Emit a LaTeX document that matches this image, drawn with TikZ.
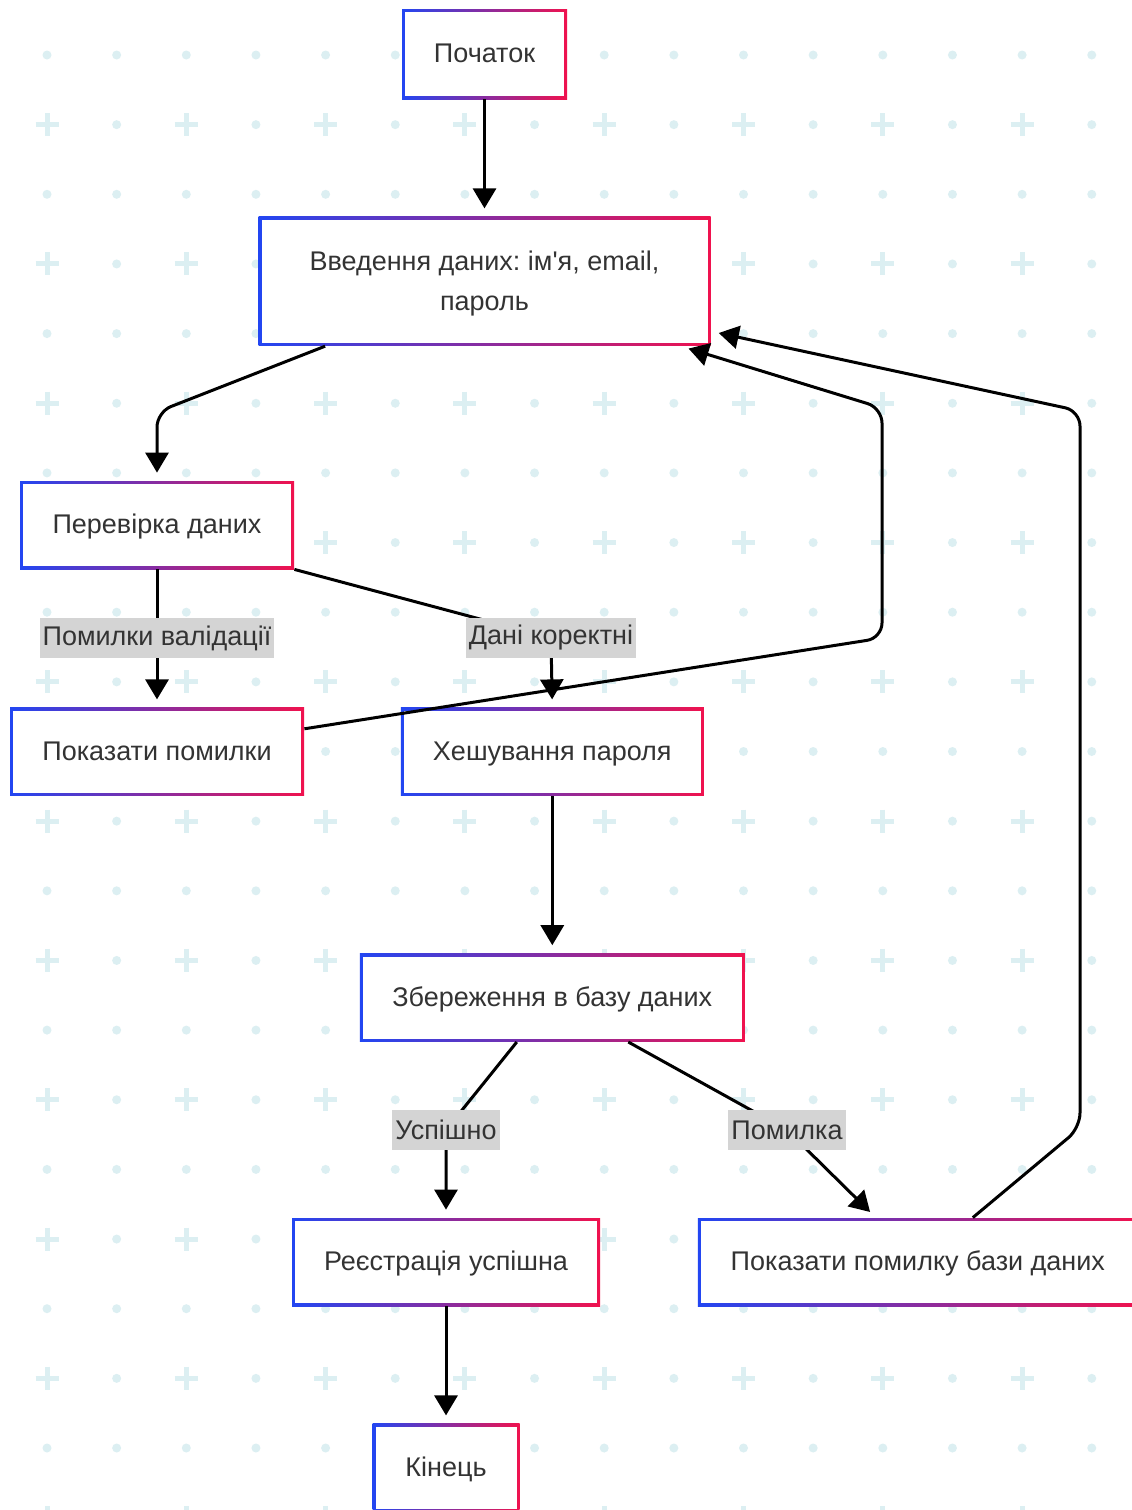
\documentclass[tikz,border=0pt]{standalone}
\usepackage{fontspec}
\setmainfont{Liberation Sans}
\usepackage{xcolor}
\usepackage{tikz}
\usetikzlibrary{arrows.meta,positioning,calc}
\definecolor{gradBlue}{HTML}{2246F2}
\definecolor{gradRed}{HTML}{F0124E}
\definecolor{textGray}{HTML}{333333}
\definecolor{labelGray}{HTML}{D4D4D4}
\definecolor{gridCyan}{HTML}{DCEFF2}
\frenchspacing

\begin{document}
\begin{tikzpicture}[
  x=0.5pt, y=-0.5pt,
  font=\fontsize{13.5pt}{20pt}\selectfont,
  box/.style={rectangle, fill=white, minimum height=44pt, align=center, text=textGray, text depth=1pt,
    path picture={
      \shade[left color=gradBlue, right color=gradRed] (path picture bounding box.south west) rectangle (path picture bounding box.north east);
      \fill[white] ([shift={(1.5pt,1.5pt)}]path picture bounding box.south west) rectangle ([shift={(-1.5pt,-1.5pt)}]path picture bounding box.north east);
    }},
  lbl/.style={rectangle, sharp corners, fill=labelGray, text=textGray, inner xsep=1.5pt, inner ysep=0pt, minimum height=20pt},
  arrow/.style={-{Triangle[length=10pt,width=11.5pt]}, line width=1.5pt, shorten >=4pt, rounded corners=7.5pt}
]
\useasboundingbox (0,0) rectangle (1131,1510);
\fill[white] (0,0) rectangle (1131,1510);

\foreach \j in {0,2,...,20}
  \foreach \i in {0,...,15}
    \fill[gridCyan] ({47+69.65*\i},{55+69.65*\j}) circle (2.25pt);
\foreach \j in {1,3,...,21}{
  \foreach \i in {1,3,...,15}
    \fill[gridCyan] ({47+69.65*\i},{55+69.65*\j}) circle (2.25pt);
  \foreach \i in {0,2,...,14}
    \draw[gridCyan, line width=2.5pt] ({47+69.65*\i-11.5},{55+69.65*\j}) -- ++(23,0)
      ({47+69.65*\i},{55+69.65*\j-11.5}) -- ++(0,23);
}

\node[box, minimum width=82.5pt, minimum height=45pt] (start) at (484.5,54) {Початок};
\node[box, minimum width=226pt, minimum height=64.5pt, below=58.5pt of start] (input) {Введення даних: ім\textquotesingle я, email,\\пароль};
\node[box, minimum width=137pt] (check) at (157,525) {Перевірка даних};
\node[box, minimum width=147pt, below=69pt of check] (showerr) {Показати помилки};
\node[box, minimum width=151.5pt, right=48pt of showerr] (hash) {Хешування пароля};
\node[box, minimum width=192.5pt, below=78.5pt of hash] (save) {Збереження в базу даних};
\node[box, minimum width=154pt] (success) at (446,1262) {Реєстрація успішна};
\node[box, minimum width=220pt, right=48.5pt of success] (dberror) {Показати помилку бази даних};
\node[box, minimum width=73.5pt, below=58.5pt of success] (end) {Кінець};

\draw[arrow] (start) -- (input);
\draw[arrow] ([xshift=33.5pt]input.south west) -- (157,412) -- (check.north);
\draw[arrow] (check) -- node[lbl] {Помилки валідації} (showerr);
\draw[arrow] (check.south east) -- (551,638) node[lbl] {Дані коректні} -- (hash.north);
\draw[arrow] ([yshift=11.5pt]showerr.east) -- (882,638) -- (882,408) -- ([xshift=-15pt]input.south east);
\draw[arrow] (hash) -- (save);
\draw[arrow] ([xshift=-17.75pt]save.south) -- (446,1130) node[lbl] {Успішно} -- (success.north);
\draw[arrow] ([xshift=38pt]save.south) -- (787,1130) node[lbl] {Помилка} -- ([xshift=-21pt]dberror.north);
\draw[arrow] ([xshift=27.5pt]dberror.north) -- (1080,1128) -- (1080,411) -- ([yshift=-25pt]input.east);
\draw[arrow] (success) -- (end);
\end{tikzpicture}
\end{document}
